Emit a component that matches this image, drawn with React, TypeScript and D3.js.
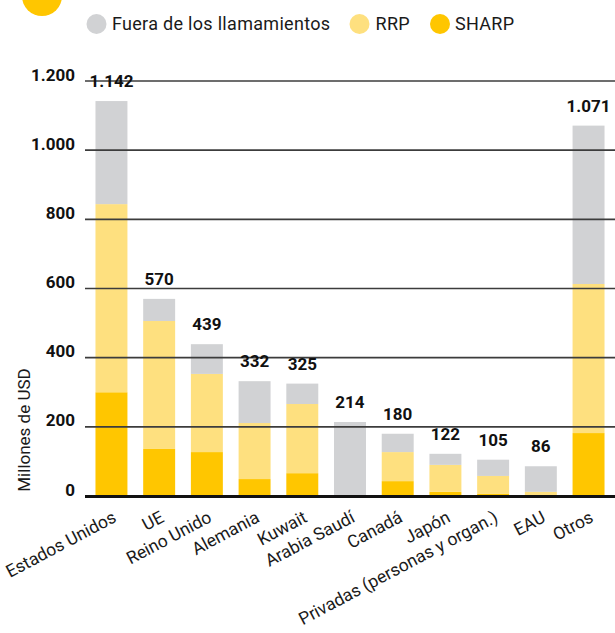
import React from "react";
import * as d3 from "d3";

const categories = ["Estados Unidos", "UE", "Reino Unido", "Alemania", "Kuwait", "Arabia Saudí", "Canadá", "Japón", "Privadas (personas y organ.)", "EAU", "Otros"];
const sharp = [300, 136, 127, 49, 66, 0, 43, 12, 6, 0, 182];
const rrp = [544, 370, 226, 162, 200, 0, 84, 78, 52, 12, 431];
const fuera = [298, 64, 86, 121, 59, 214, 53, 32, 47, 74, 458];
const totalLabels = ["1.142", "570", "439", "332", "325", "214", "180", "122", "105", "86", "1.071"];
const yTicks = [0, 200, 400, 600, 800, 1000, 1200];
const yTickLabels = ["0", "200", "400", "600", "800", "1.000", "1.200"];
const seriesNames = ["Fuera de los llamamientos", "RRP", "SHARP"];

const COLORS: Record<string, string> = { SHARP: "#ffc600", RRP: "#fee07f", Fuera: "#d1d2d4" };
const FONT = "Roboto, 'DejaVu Sans', sans-serif";

export default function App() {
  const W = 615, H = 633;
  const x = d3.scaleBand<string>().domain(categories).range([87.6, 612.4]).paddingInner(0.33).paddingOuter(0.165);
  const y = d3.scaleLinear().domain([0, 1200]).range([496, 81]);
  const rows = categories.map((c, i) => ({ cat: c, SHARP: sharp[i], RRP: rrp[i], Fuera: fuera[i] }));
  const stack = d3.stack<any>().keys(["SHARP", "RRP", "Fuera"])(rows);
  const legend = [
    { name: seriesNames[0], color: COLORS.Fuera, cx: 96.5, tx: 112 },
    { name: seriesNames[1], color: COLORS.RRP, cx: 359.5, tx: 375.5 },
    { name: seriesNames[2], color: COLORS.SHARP, cx: 440, tx: 455 },
  ];
  return (
    <svg width={W} height={H} style={{ position: "absolute", left: 0, top: 0 }} fontFamily={FONT}>
      <circle cx={42} cy={-4} r={20} fill="#ffc600" />
      {legend.map((l) => (
        <g key={l.name}>
          <circle cx={l.cx} cy={24} r={10} fill={l.color} />
          <text x={l.tx} y={29.5} fontSize={18} letterSpacing={0.3} fill="#1a1a1a">{l.name}</text>
        </g>
      ))}
      {stack.map((s) => (
        <g key={s.key} fill={COLORS[s.key]}>
          {s.map((d, i) => (
            <rect key={i} x={x(categories[i])} width={x.bandwidth()} y={y(d[1])} height={y(d[0]) - y(d[1])} />
          ))}
        </g>
      ))}
      {yTicks.slice(1).map((t) => (
        <line key={t} x1={85} x2={615} y1={y(t)} y2={y(t)} stroke="#3c3c3c" strokeWidth={1.6} />
      ))}
      <line x1={85} x2={615} y1={496.5} y2={496.5} stroke="#111" strokeWidth={2.8} />
      {yTicks.map((t, i) => (
        <text key={t} x={75} y={y(t) - 0.5} textAnchor="end" fontSize={17} fontWeight="bold" fill="#111">{yTickLabels[i]}</text>
      ))}
      {categories.map((c, i) => {
        const tot = sharp[i] + rrp[i] + fuera[i];
        return (
          <text key={c} x={(x(c) as number) + x.bandwidth() / 2} y={y(tot) - 14} textAnchor="middle" fontSize={17} fontWeight="bold" fill="#111">{totalLabels[i]}</text>
        );
      })}
      {categories.map((c) => {
        const cx = (x(c) as number) + x.bandwidth() / 2 + 6;
        return (
          <text key={c} transform={`translate(${cx},521) rotate(-28)`} textAnchor="end" fontSize={17.5} fill="#1a1a1a">{c}</text>
        );
      })}
      <text transform="translate(30,430) rotate(-90)" textAnchor="middle" fontSize={17} fill="#1a1a1a">Millones de USD</text>
    </svg>
  );
}
